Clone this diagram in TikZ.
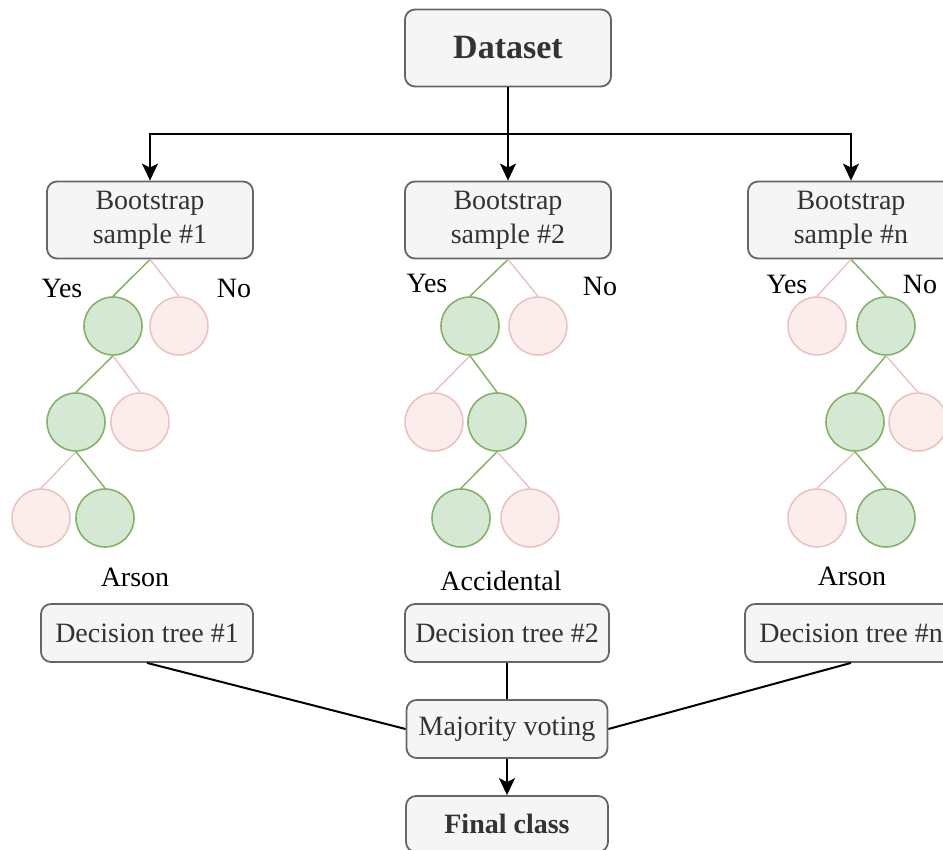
\documentclass[tikz,border=0pt]{standalone}
\usepackage{fontspec}
\setmainfont{Liberation Serif}
\usetikzlibrary{arrows.meta}
\definecolor{boxfill}{HTML}{F5F5F5}
\definecolor{boxline}{HTML}{666666}
\definecolor{boxtext}{HTML}{333333}
\definecolor{yesfill}{HTML}{D5E8D4}
\definecolor{yesline}{HTML}{82B366}
\definecolor{nofill}{HTML}{FAEDEC}
\definecolor{noline}{HTML}{EBC1BF}
\begin{document}
\begin{tikzpicture}[x=1pt,y=-1pt,
  box/.style={draw=boxline,fill=boxfill,rounded corners=10pt,line width=1.8pt,text=boxtext,font=\fontsize{28}{34}\selectfont,align=center,inner sep=0pt},
  yesnode/.style={circle,draw=yesline,fill=yesfill,line width=1.6pt,minimum size=58pt,inner sep=0pt},
  nonode/.style={circle,draw=noline,fill=nofill,line width=1.5pt,minimum size=58pt,inner sep=0pt},
  yesedge/.style={draw=yesline,line width=1.5pt},
  noedge/.style={draw=noline,line width=1.4pt},
  lbl/.style={font=\fontsize{28}{34}\selectfont,inner sep=0pt},
  arr/.style={-{Stealth[length=17pt,width=16pt,inset=4pt]},line width=2pt}]
\path[use as bounding box,clip] (0,0) rectangle (943,850);
\node[box,minimum width=206pt,minimum height=77pt,font=\fontsize{34}{40}\selectfont\bfseries] (ds) at (508,48) {Dataset};
\node[box,minimum width=206pt,minimum height=77pt] (b1) at (150,220) {Bootstrap\\sample \#1};
\node[box,minimum width=206pt,minimum height=77pt] (b2) at (508,220) {Bootstrap\\sample \#2};
\node[box,minimum width=206pt,minimum height=77pt] (bn) at (851,220) {Bootstrap\\sample \#n};
\coordinate (sp) at (508,134);
\draw[line width=2pt] (ds.south) -- (sp);
\draw[arr] (sp) -- (b2.north);
\draw[arr] (sp) -| (b1.north);
\draw[arr] (sp) -| (bn.north);
\node[lbl] (y1) at (62,288) {Yes};
\node[lbl] (n1) at (234,288) {No};
\node[lbl] (y2) at (427,283) {Yes};
\node[lbl] (n2) at (600,286) {No};
\node[lbl] (y3) at (787,284) {Yes};
\node[lbl] (n3) at (920,284) {No};
\node[yesnode] (t1a) at (113,326) {};
\node[nonode] (t1b) at (179,326) {};
\node[yesnode] (t1c) at (76,422) {};
\node[nonode] (t1d) at (140,422) {};
\node[nonode] (t1e) at (41,518) {};
\node[yesnode] (t1f) at (105,518) {};
\draw[yesedge] (b1.south) -- (t1a.north);
\draw[noedge] (b1.south) -- (t1b.north);
\draw[yesedge] (t1a.south) -- (t1c.north);
\draw[noedge] (t1a.south) -- (t1d.north);
\draw[noedge] (t1c.south) -- (t1e.north);
\draw[yesedge] (t1c.south) -- (t1f.north);
\node[yesnode] (t2a) at (470,326) {};
\node[nonode] (t2b) at (538,326) {};
\node[nonode] (t2c) at (434,422) {};
\node[yesnode] (t2d) at (497,422) {};
\node[yesnode] (t2e) at (461,518) {};
\node[nonode] (t2f) at (530,518) {};
\draw[yesedge] (b2.south) -- (t2a.north);
\draw[noedge] (b2.south) -- (t2b.north);
\draw[noedge] (t2a.south) -- (t2c.north);
\draw[yesedge] (t2a.south) -- (t2d.north);
\draw[yesedge] (t2d.south) -- (t2e.north);
\draw[noedge] (t2d.south) -- (t2f.north);
\node[nonode] (t3a) at (817,326) {};
\node[yesnode] (t3b) at (886,326) {};
\node[yesnode] (t3c) at (855,422) {};
\node[nonode] (t3d) at (918,422) {};
\node[nonode] (t3e) at (817,518) {};
\node[yesnode] (t3f) at (886,518) {};
\draw[noedge] (bn.south) -- (t3a.north);
\draw[yesedge] (bn.south) -- (t3b.north);
\draw[yesedge] (t3b.south) -- (t3c.north);
\draw[noedge] (t3b.south) -- (t3d.north);
\draw[noedge] (t3c.south) -- (t3e.north);
\draw[yesedge] (t3c.south) -- (t3f.north);
\node[lbl] (r1) at (135,577) {Arson};
\node[lbl] (r2) at (501,581) {Accidental};
\node[lbl] (r3) at (852,576) {Arson};
\node[box,minimum width=212pt,minimum height=58pt] (d1) at (147,633) {Decision tree \#1};
\node[box,minimum width=204pt,minimum height=58pt] (d2) at (507,633) {Decision tree \#2};
\node[box,minimum width=212pt,minimum height=58pt] (dn) at (851,633) {Decision tree \#n};
\node[box,minimum width=201pt,minimum height=58pt] (mv) at (507,729) {Majority voting};
\node[box,minimum width=202pt,minimum height=56pt,font=\fontsize{28}{34}\selectfont\bfseries] (fc) at (507,824) {Final class};
\draw[line width=2pt] (d1.south) -- (mv.west);
\draw[line width=2pt] (d2.south) -- (mv.north);
\draw[line width=2pt] (dn.south) -- (mv.east);
\draw[arr] (mv.south) -- (fc.north);
\end{tikzpicture}
\end{document}
